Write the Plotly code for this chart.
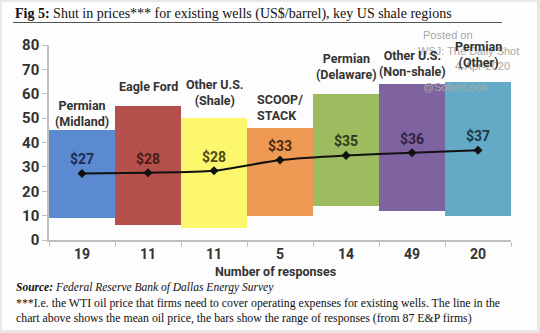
import plotly.graph_objects as go

# ---- data ----
regions = ["Permian<br>(Midland)", "Eagle Ford", "Other U.S.<br>(Shale)", "SCOOP/<br>STACK",
           "Permian<br>(Delaware)", "Other U.S.<br>(Non-shale)", "Permian<br>(Other)"]
responses = [19, 11, 11, 5, 14, 49, 20]
range_low = [9, 6, 5, 10, 14, 12, 10]
range_high = [45, 55, 50, 46, 60, 64, 65]
mean_price = [27.3, 27.6, 28.4, 32.8, 34.7, 35.8, 36.8]
y_ticks = [0, 10, 20, 30, 40, 50, 60, 70, 80]

# ---- styles / layout helpers ----
bar_colors = ["#5b8ad0", "#b5504c", "#fdf76e", "#ee9a55", "#9dbb5f", "#7e63a0", "#64a9c6"]
value_colors = ["#1c2e52", "#4a1c1c", "#4a4a1a", "#4a2a10", "#2f3a1a", "#2e2445", "#1a3a48"]
label_y = [51.8, 62.9, 60.7, 54.2, 71.3, 72.5, 76.3]
label_align = ["center", "center", "center", "left", "center", "center", "center"]

W, H = 540, 333
L, R, T, B = 49, 511, 45, 240
def px(x):
    return (x - L) / (R - L)
def py(y):
    return (B - y) / (B - T)

NARROW = "Roboto, sans-serif"
SERIF = "Georgia, Liberation Serif, DejaVu Serif, serif"

xs = list(range(len(regions)))
fig = go.Figure()
fig.add_trace(go.Bar(
    x=xs, y=[h - l for h, l in zip(range_high, range_low)], base=range_low,
    width=1, marker=dict(color=bar_colors, line=dict(width=0)),
    hoverinfo="skip", showlegend=False))
fig.add_trace(go.Scatter(
    x=xs, y=mean_price, mode="lines+markers",
    line=dict(color="#111111", width=2, shape="spline", smoothing=0.6),
    marker=dict(symbol="diamond", size=7, color="#111111"),
    showlegend=False))

ann = []
# watermark
for txt, xx, yy in [("Posted on", 448, 35), ("WSJ: The Daily Shot", 468, 51),
                    ("4-Apr-2020", 482, 66), ("@SoberLook", 455, 87)]:
    ann.append(dict(x=px(xx), y=py(yy), xref="paper", yref="paper", text=txt, showarrow=False,
                    xanchor="center", yanchor="middle",
                    font=dict(family="Liberation Sans, Arial, sans-serif", size=11, color="#a8a8a8")))
# region labels
for i, name in enumerate(regions):
    ann.append(dict(x=i, y=label_y[i], xref="x", yref="y", text=name, showarrow=False,
                    align=label_align[i], xanchor="center", yanchor="middle",
                    font=dict(family=NARROW, size=12.5, color="#333333", weight="bold")))
# value labels
for i, m in enumerate(mean_price):
    ann.append(dict(x=i, y=m, xref="x", yref="y", text="$%d" % round(m), showarrow=False,
                    yshift=14, xanchor="center", yanchor="middle",
                    font=dict(family=NARROW, size=14, color=value_colors[i], weight="bold")))
# axis title
ann.append(dict(x=px(275), y=py(271), xref="paper", yref="paper", text="Number of responses",
                showarrow=False, xanchor="center", yanchor="middle",
                font=dict(family=NARROW, size=12.5, color="#333333", weight="bold")))
# title
ann.append(dict(x=px(13), y=py(14), xref="paper", yref="paper",
                text="<b>Fig 5:</b> Shut in prices*** for existing wells (US$/barrel), key US shale regions",
                showarrow=False, xanchor="left", yanchor="middle",
                font=dict(family=SERIF, size=14, color="#111111")))
# source & footnote
ann.append(dict(x=px(14), y=py(287), xref="paper", yref="paper",
                text="<b><i>Source:</i></b><i> Federal Reserve Bank of Dallas Energy Survey</i>",
                showarrow=False, xanchor="left", yanchor="middle",
                font=dict(family=SERIF, size=11.5, color="#111111")))
ann.append(dict(x=px(14), y=py(303), xref="paper", yref="paper",
                text="***I.e. the WTI oil price that firms need to cover operating expenses for existing wells. The line in the",
                showarrow=False, xanchor="left", yanchor="middle",
                font=dict(family=SERIF, size=11.8, color="#111111")))
ann.append(dict(x=px(14), y=py(318), xref="paper", yref="paper",
                text="chart above shows the mean oil price, the bars show the range of responses (from 87 E&P firms)",
                showarrow=False, xanchor="left", yanchor="middle",
                font=dict(family=SERIF, size=11.8, color="#111111")))

shapes = [
    dict(type="rect", xref="paper", yref="paper", x0=px(2), x1=px(537), y0=py(2), y1=py(330),
         fillcolor="#fdfdfd", line=dict(width=0), layer="below"),
    dict(type="line", xref="paper", yref="paper", x0=px(13), x1=px(502), y0=py(22.5), y1=py(22.5),
         line=dict(color="#555555", width=1)),
]

fig.update_layout(
    width=W, height=H, margin=dict(l=L, r=W - R, t=T, b=H - B),
    paper_bgcolor="#e8e8e8", plot_bgcolor="rgba(0,0,0,0)",
    annotations=ann, shapes=shapes, bargap=0,
    xaxis=dict(range=[-0.5, len(regions) - 0.5], tickvals=xs, ticktext=[str(r) for r in responses],
               ticks="", showgrid=False, zeroline=False, showline=True, linecolor="#c0c0c0",
               linewidth=1.5,
               tickfont=dict(family=NARROW, size=14, color="#333333", weight="bold"),
               minor=dict(tickvals=[i - 0.5 for i in range(len(regions) + 1)], ticks="outside",
                          ticklen=5, tickcolor="#c0c0c0", showgrid=False)),
    yaxis=dict(range=[0, 80], tickvals=y_ticks, ticks="outside", ticklen=5, tickcolor="#c0c0c0",
               showgrid=False, zeroline=False, showline=True, linecolor="#c0c0c0", linewidth=1.5,
               tickfont=dict(family=NARROW, size=15, color="#333333", weight="bold")),
)
fig.write_html("out.html")
